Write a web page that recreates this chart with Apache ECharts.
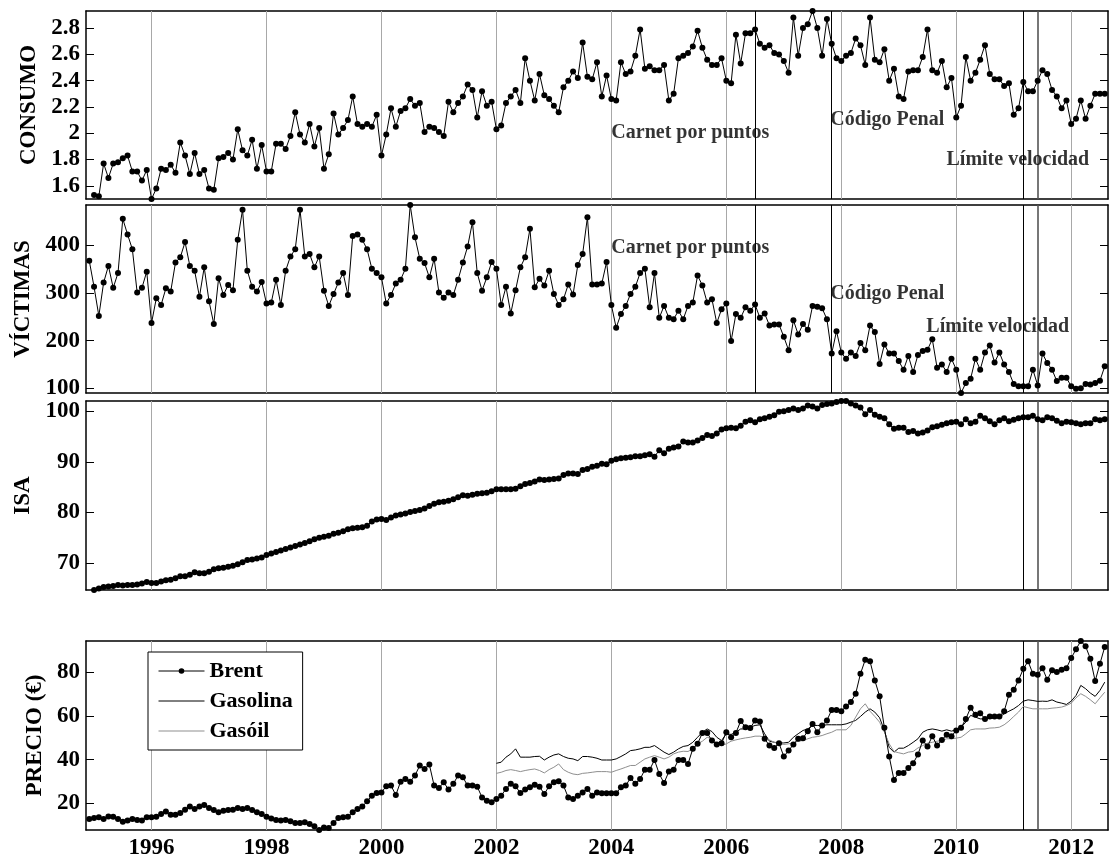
<!DOCTYPE html>
<html><head><meta charset="utf-8">
<script src="https://cdn.jsdelivr.net/npm/echarts@6/dist/echarts.min.js"></script>
<style>html,body{margin:0;padding:0;background:#fff}#c{width:1110px;height:856px}</style>
</head><body><div id="c"></div>
<script>
// ---- DATA (monthly) ----
// Consumo: Jan 1995 .. Aug 2012
const consumoStart = 1995.0;
const consumo = [
1.53,1.52,1.77,1.66,1.77,1.78,1.81,1.83,1.71,1.71,1.64,1.72,
1.50,1.58,1.73,1.72,1.76,1.70,1.93,1.83,1.69,1.85,1.69,1.72,
1.58,1.57,1.81,1.82,1.85,1.80,2.03,1.87,1.83,1.95,1.73,1.91,
1.71,1.71,1.92,1.92,1.88,1.98,2.16,1.99,1.93,2.07,1.90,2.04,
1.73,1.84,2.15,1.99,2.04,2.10,2.28,2.07,2.05,2.07,2.05,2.14,
1.83,1.99,2.19,2.05,2.17,2.19,2.26,2.21,2.23,2.01,2.05,2.04,
2.01,1.98,2.24,2.16,2.23,2.28,2.37,2.33,2.12,2.32,2.21,2.24,
2.03,2.06,2.23,2.28,2.33,2.23,2.57,2.40,2.25,2.45,2.29,2.26,
2.21,2.16,2.35,2.40,2.47,2.42,2.69,2.43,2.41,2.54,2.28,2.44,
2.26,2.25,2.54,2.45,2.47,2.59,2.79,2.49,2.51,2.48,2.48,2.52,
2.25,2.30,2.57,2.59,2.61,2.66,2.78,2.65,2.56,2.52,2.52,2.57,
2.40,2.38,2.75,2.53,2.76,2.76,2.79,2.68,2.65,2.67,2.61,2.60,
2.55,2.46,2.88,2.59,2.80,2.83,2.93,2.80,2.59,2.87,2.68,2.57,
2.55,2.59,2.61,2.72,2.67,2.52,2.88,2.56,2.54,2.64,2.40,2.49,
2.28,2.26,2.47,2.48,2.48,2.58,2.79,2.48,2.46,2.55,2.35,2.42,
2.12,2.21,2.58,2.40,2.46,2.56,2.67,2.45,2.41,2.41,2.36,2.38,
2.14,2.19,2.39,2.32,2.32,2.40,2.48,2.45,2.33,2.28,2.19,2.25,
2.07,2.11,2.25,2.11,2.21,2.30,2.30,2.30];

// Víctimas: Dec 1994 .. Aug 2012
const victimasStart = 1995.0 - 1/12;
const victimas = [368,
313,252,322,357,311,342,456,423,392,301,311,345,
237,289,275,310,303,364,375,407,357,347,292,354,
283,235,331,296,317,306,412,475,347,313,303,323,
278,280,328,275,347,377,392,475,377,382,354,377,
305,273,298,322,342,296,420,423,412,392,351,342,
333,278,296,320,328,351,485,417,372,363,333,372,
301,290,301,296,328,364,398,449,342,305,333,365,
351,275,313,257,306,354,375,435,312,330,316,347,
298,275,287,318,297,359,382,459,318,318,320,365,
275,227,256,273,298,313,342,351,270,342,248,273,
248,245,263,245,273,280,337,316,280,287,237,266,
278,199,256,248,270,263,276,248,257,232,234,234,
208,180,243,213,235,223,273,271,268,245,173,220,
175,162,175,168,195,180,232,218,151,192,173,173,
157,139,168,134,170,178,181,203,143,150,134,162,
139,90,111,120,162,139,175,190,154,175,150,134,
109,104,104,104,139,106,173,153,139,115,122,122,
104,99,100,109,108,111,116,146];

// ISA: Jan 1995 .. Aug 2012
const isaStart = 1995.0;
const isa = [
64.7,65.0,65.3,65.4,65.5,65.7,65.6,65.7,65.7,65.8,66.0,66.3,
66.1,66.1,66.4,66.6,66.7,67.0,67.4,67.4,67.7,68.2,68.0,68.0,
68.3,68.8,69.0,69.1,69.3,69.5,69.8,70.2,70.6,70.7,70.9,71.1,
71.6,71.9,72.2,72.5,72.8,73.1,73.4,73.7,74.0,74.3,74.7,75.0,
75.2,75.4,75.8,76.0,76.3,76.7,76.9,77.0,77.1,77.4,78.2,78.6,
78.7,78.5,79.0,79.4,79.6,79.8,80.1,80.3,80.5,80.8,81.3,81.7,
82.0,82.1,82.3,82.6,83.0,83.4,83.3,83.5,83.7,83.8,83.9,84.2,
84.6,84.6,84.6,84.6,84.7,85.2,85.6,85.8,86.1,86.5,86.4,86.5,
86.6,86.7,87.4,87.7,87.7,87.6,88.4,88.6,89.0,89.2,89.6,89.5,
90.2,90.5,90.7,90.8,90.9,91.1,91.1,91.3,91.5,91.0,92.3,91.7,
92.6,92.8,93.0,94.0,93.8,93.8,94.2,94.7,95.3,95.1,95.6,96.4,
96.6,96.7,96.6,97.1,97.9,98.2,97.8,98.4,98.6,98.9,99.2,99.9,
100.0,100.2,100.5,100.2,100.5,101.1,100.9,100.5,101.2,101.4,101.5,101.8,
102.0,102.0,101.5,101.1,100.7,99.4,100.2,99.3,98.9,98.6,97.4,96.5,
96.7,96.7,95.9,96.1,95.6,95.8,96.2,96.8,97.0,97.3,97.6,97.8,
97.9,97.4,98.4,97.6,97.9,99.1,98.6,98.0,97.4,98.2,98.6,98.0,
98.3,98.6,98.8,98.8,99.1,98.4,98.2,98.8,98.6,98.1,97.6,97.9,
97.8,97.6,97.4,97.6,97.6,98.4,98.2,98.4];

// Brent (EUR): Dec 1994 .. Aug 2012
const brentStart = 1995.0 - 1/12;
const brent = [12.8,
13.3,13.6,12.8,14.0,13.9,12.8,11.6,12.1,12.8,12.4,12.1,13.6,
13.6,13.9,15.1,16.3,14.8,14.8,15.6,17.1,18.5,17.4,18.6,19.2,
17.9,16.9,15.9,16.6,16.9,17.1,17.9,17.4,17.9,16.9,15.9,15.1,
13.9,13.1,12.4,12.1,12.4,11.8,11.0,11.0,11.3,10.5,9.5,7.8,
9.0,8.7,11.0,13.3,13.6,13.9,15.9,17.4,18.5,20.9,23.5,24.7,
25.0,27.8,28.1,23.8,29.9,31.1,29.9,32.7,37.3,35.7,37.7,28.1,
27.0,29.6,26.3,28.9,32.7,31.9,28.1,28.1,27.6,22.7,21.2,20.5,
22.0,23.5,26.6,28.9,27.8,24.7,26.3,27.3,28.5,27.6,24.3,27.8,
29.6,30.1,28.1,22.7,22.0,23.5,25.0,26.6,23.5,25.0,24.6,24.6,
24.6,24.6,27.3,28.1,31.6,28.9,31.1,35.4,35.4,39.8,33.4,29.3,
34.5,35.4,39.8,39.8,38.0,44.9,47.2,52.2,52.1,48.7,46.9,47.5,
52.5,50.2,52.2,57.6,54.8,54.4,57.9,57.4,49.5,46.4,45.3,47.5,
41.4,44.1,46.9,49.5,49.8,53.0,56.3,52.5,55.6,57.9,62.7,62.7,
62.1,64.3,66.3,70.1,79.2,85.6,84.9,76.2,69.0,54.5,41.4,30.7,
33.9,33.9,36.2,38.3,42.3,48.7,46.0,50.7,46.4,49.0,51.3,50.7,
53.3,54.5,58.6,63.7,60.5,61.2,58.6,59.7,59.7,59.7,62.1,69.6,
71.9,76.2,81.5,84.9,79.2,78.8,81.8,76.5,80.8,80.0,81.1,81.8,
86.4,90.4,94.2,91.8,86.1,75.9,83.8,91.5];

// Gasolina / Gasóil: Jan 2002 .. Aug 2012
const fuelStart = 2002.0;
const gasolina = [
38.3,38.8,41.1,42.6,44.9,41.1,41.1,41.1,41.4,41.5,39.8,41.1,
42.1,42.6,41.4,40.6,40.3,39.5,41.4,41.4,41.1,40.6,39.8,39.8,
39.8,40.3,41.4,42.6,44.1,44.4,44.9,45.6,45.6,46.4,44.9,43.4,
42.3,43.4,44.9,46.0,46.4,47.9,50.2,52.5,54.0,52.8,50.2,48.7,
51.8,51.5,52.5,54.0,54.0,54.8,55.6,55.9,51.8,48.4,47.9,47.6,
47.6,47.9,50.2,51.8,53.3,54.0,55.6,55.6,55.6,55.9,55.9,55.9,
55.9,56.3,57.1,57.9,59.7,61.7,63.2,61.7,59.1,53.3,45.6,43.4,
45.2,45.2,46.4,47.9,49.5,52.5,53.6,54.0,53.6,53.0,53.6,53.0,
53.6,54.8,57.1,60.2,59.4,58.6,58.6,58.9,58.9,59.4,60.9,62.1,
63.2,64.7,66.7,67.3,67.0,66.6,66.7,66.6,67.3,66.3,65.8,65.2,
66.7,69.3,73.9,72.4,70.4,68.9,71.6,75.4];
const gasoil = [
33.7,34.2,35.0,35.4,35.0,34.5,35.0,35.4,35.7,35.0,33.9,35.4,
36.5,38.0,35.4,34.2,33.4,33.1,33.7,33.9,34.2,34.5,34.5,34.5,
34.2,35.0,35.7,36.5,37.3,37.3,38.8,40.3,41.1,41.8,41.1,40.3,
41.1,42.6,43.4,43.8,43.7,44.9,47.2,48.4,50.2,49.5,47.5,46.4,
47.2,48.4,49.0,49.5,49.9,50.2,50.7,50.7,50.2,49.0,47.9,47.2,
46.9,47.2,47.6,48.4,48.7,49.5,50.2,50.5,51.0,51.8,52.5,53.6,
53.6,53.6,55.6,59.4,63.2,65.5,62.1,59.7,57.1,52.5,47.2,43.7,
43.1,42.6,43.4,43.7,45.3,46.4,47.5,47.9,48.4,48.7,49.5,49.5,
49.8,50.2,51.8,53.6,54.0,54.0,54.0,54.4,54.5,54.8,55.9,57.6,
59.7,61.7,64.3,63.7,63.2,63.2,63.2,63.2,63.5,63.7,64.0,64.7,
65.8,68.2,70.1,68.9,67.3,65.5,68.2,70.8];

// Axis tick labels
const xTicks = [1996,1998,2000,2002,2004,2006,2008,2010,2012];
const consumoTicks = [1.6,1.8,2,2.2,2.4,2.6,2.8];
const victimasTicks = [100,200,300,400];
const isaTicks = [70,80,90,100];
const precioTicks = [20,40,60,80];
const panelNames = ['CONSUMO','VÍCTIMAS','ISA','PRECIO (€)'];
const legendNames = ['Brent','Gasolina','Gasóil'];

// Events (decimal year)
const eventsAll = [2006.5, 2007.83, 2011.17, 2011.41];
const eventsSpeed = [2011.17, 2011.41];
const annot1 = [{name:'Carnet por puntos', value:[2004.0, 2.0]},
                {name:'Código Penal', value:[2007.81, 2.1]},
                {name:'Límite velocidad', value:[2009.83, 1.8]}];
const annot2 = [{name:'Carnet por puntos', value:[2004.0, 396]},
                {name:'Código Penal', value:[2007.81, 299]},
                {name:'Límite velocidad', value:[2009.48, 230]}];

// ---- CHART ----
const FONT = 'Liberation Serif';
const xMin = 1994.86, xMax = 2012.64;
function monthly(start, arr){ return arr.map((v,i)=>[start + i/12, v]); }
const grids = [
  {left:86, top:11, width:1022, height:188, outerBoundsMode:'none', containLabel:false},
  {left:86, top:205, width:1022, height:188, outerBoundsMode:'none', containLabel:false},
  {left:86, top:401, width:1022, height:189, outerBoundsMode:'none', containLabel:false},
  {left:86, top:641, width:1022, height:189, outerBoundsMode:'none', containLabel:false}];
const allPrice = brent.concat(gasolina, gasoil);
const yRanges = [
  [Math.min(...consumo), Math.max(...consumo)],
  [Math.min(...victimas), Math.max(...victimas)],
  [Math.min(...isa), Math.max(...isa)],
  [Math.min(...allPrice), Math.max(...allPrice)]];
const yTicks = [consumoTicks, victimasTicks, isaTicks, precioTicks];
const lbl = {fontFamily:FONT, fontWeight:'bold', fontSize:23, color:'#000'};
const axLine = {show:true, lineStyle:{color:'#000', width:1.5}};

const xAxis = [], yAxis = [];
for (let g=0; g<4; g++){
  xAxis.push({gridIndex:g, type:'value', min:xMin, max:xMax, position:'bottom',
    axisLine:axLine, splitLine:{show:false},
    axisTick:{show:true, inside:true, length:5, customValues:xTicks, lineStyle:{color:'#000'}},
    axisLabel:{show:g===3, customValues:xTicks, margin:7, formatter:v=>String(v), ...lbl}});
}
for (let g=0; g<4; g++){
  xAxis.push({gridIndex:g, type:'value', min:xMin, max:xMax, position:'top',
    axisLine:axLine, splitLine:{show:false},
    axisTick:{show:true, inside:true, length:5, customValues:xTicks, lineStyle:{color:'#000'}},
    axisLabel:{show:false}});
}
for (let g=0; g<4; g++){
  yAxis.push({gridIndex:g, type:'value', min:yRanges[g][0], max:yRanges[g][1], position:'left',
    name:panelNames[g], nameLocation:'middle', nameGap:27, nameTextStyle:{...lbl},
    axisLine:axLine, splitLine:{show:false},
    axisTick:{show:true, inside:true, length:8, customValues:yTicks[g], lineStyle:{color:'#000'}},
    axisLabel:{show:true, customValues:yTicks[g], margin:6, formatter:v=>String(v), ...lbl}});
}
for (let g=0; g<4; g++){
  yAxis.push({gridIndex:g, type:'value', min:yRanges[g][0], max:yRanges[g][1], position:'right',
    axisLine:axLine, splitLine:{show:false},
    axisTick:{show:true, inside:true, length:8, customValues:yTicks[g], lineStyle:{color:'#000'}},
    axisLabel:{show:false}});
}

function dotSeries(g, name, data){
  return {type:'line', name, xAxisIndex:g, yAxisIndex:g, data, symbol:'circle', symbolSize:6,
    showSymbol:true, itemStyle:{color:'#000'}, lineStyle:{color:'#000', width:1}, z:3, silent:true};
}
function gridSeries(g, events){
  const d = xTicks.map(v=>({xAxis:v}));
  events.forEach(e=>d.push({xAxis:e, lineStyle:{color: e===2011.41 ? '#555' : '#000', width: e===2011.41 ? 1.6 : 1}}));
  return {type:'line', xAxisIndex:g, yAxisIndex:g, data:[], z:1, silent:true,
    markLine:{silent:true, z:1, symbol:['none','none'], label:{show:false},
      lineStyle:{color:'#a8a8a8', width:1, type:'solid'}, emphasis:{disabled:true}, data:d}};
}
function annotSeries(g, data){
  return {type:'scatter', xAxisIndex:g, yAxisIndex:g, data, symbolSize:0, silent:true, z:5,
    label:{show:true, position:'right', distance:0, formatter:'{b}', fontFamily:FONT, fontWeight:'bold', fontSize:20, color:'#000'}};
}

const series = [
  gridSeries(0, eventsAll), gridSeries(1, eventsAll), gridSeries(2, eventsSpeed), gridSeries(3, eventsSpeed),
  dotSeries(0, 'Consumo', monthly(consumoStart, consumo)),
  dotSeries(1, 'Víctimas', monthly(victimasStart, victimas)),
  dotSeries(2, 'ISA', monthly(isaStart, isa)),
  {type:'line', name:legendNames[1], xAxisIndex:3, yAxisIndex:3, data:monthly(fuelStart, gasolina),
    symbol:'none', showSymbol:false, lineStyle:{color:'#000', width:1}, itemStyle:{color:'#000'}, z:2, silent:true},
  {type:'line', name:legendNames[2], xAxisIndex:3, yAxisIndex:3, data:monthly(fuelStart, gasoil),
    symbol:'none', showSymbol:false, lineStyle:{color:'#8f8f8f', width:1}, itemStyle:{color:'#8f8f8f'}, z:2, silent:true},
  dotSeries(3, legendNames[0], monthly(brentStart, brent)),
  annotSeries(0, annot1), annotSeries(1, annot2)
];

const chart = echarts.init(document.getElementById('c'), null, {renderer:'canvas'});
chart.setOption({
  animation:false, backgroundColor:'#fff',
  grid:grids, xAxis, yAxis, series,
  legend:{show:true, left:148, top:652, orient:'vertical', itemGap:8,
    itemWidth:46, itemHeight:7, padding:[8,10,8,10], borderColor:'#000', borderWidth:1,
    backgroundColor:'#fff', textStyle:{...lbl, fontSize:22}, selectedMode:false,
    data:[{name:legendNames[0], lineStyle:{width:1}},
          {name:legendNames[1], itemStyle:{opacity:0}, lineStyle:{width:1}},
          {name:legendNames[2], itemStyle:{opacity:0}, lineStyle:{width:1}}]}
});
</script></body></html>
